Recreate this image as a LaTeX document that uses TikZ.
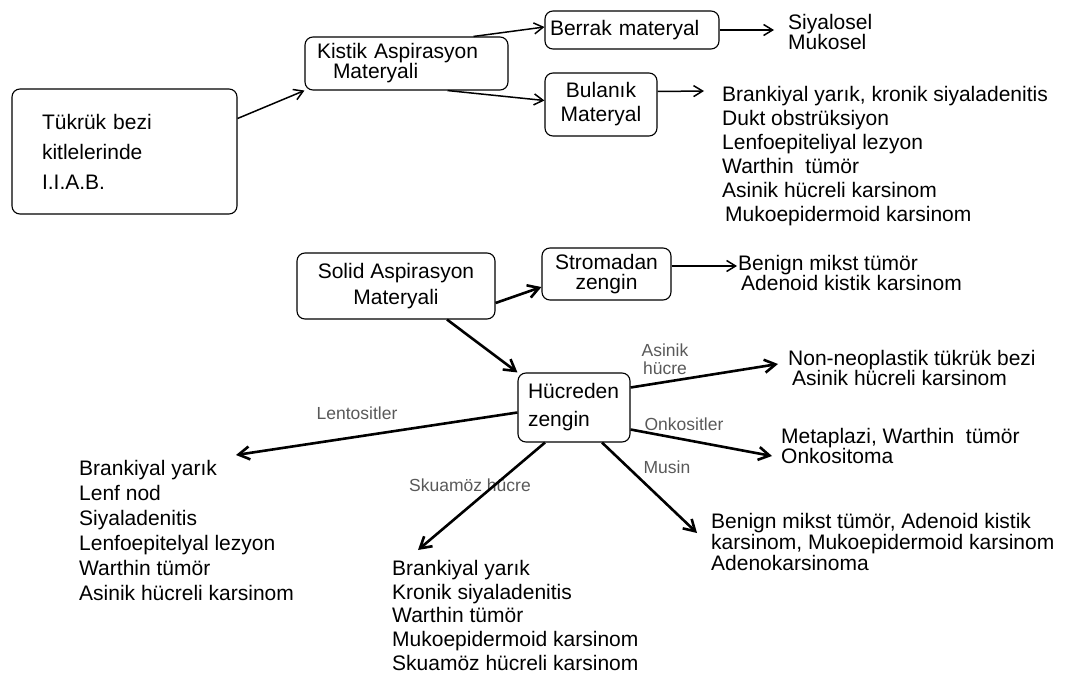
\documentclass[tikz,border=0pt]{standalone}
\usepackage{fontspec}
\setmainfont{Liberation Sans}
\usetikzlibrary{arrows.meta,positioning}

\tikzset{
  box/.style={draw, rounded corners=8pt, line width=1.1pt, inner sep=0pt},
  boxtext/.style={font=\fontsize{21}{20}\selectfont},
  list/.style={anchor=north west, align=left, inner sep=0pt},
  lbl/.style={text=black!65, inner sep=0pt, font=\fontsize{17.5}{18}\selectfont},
  flow/.style={-{Straight Barb[length=9pt,width=11pt]}, line width=1.5pt},
  heavy/.style={-{Straight Barb[length=11pt,width=13pt]}, line width=2.6pt},
}

\begin{document}
\begin{tikzpicture}[x=1pt, y=-1pt]
    \useasboundingbox (0,0) rectangle (1072,677);

    % Start
    \node[box, minimum width=225pt, minimum height=125pt, text width=165pt, align=left,
          font=\fontsize{21}{30}\selectfont] (tukruk) at (124.5,151.5)
          {Tükrük bezi\\kitlelerinde\\I.I.A.B.};

    % Cystic branch
    \node[box, boxtext, minimum width=203pt, minimum height=53pt, text width=179pt, align=left]
          (kistik) at (406.5,63.5) {Kistik Aspirasyon\\\hspace*{16pt}Materyali};
    \node[box, boxtext, minimum width=174pt, minimum height=38pt, text width=164pt, align=left]
          (berrak) at (632,30) {Berrak materyal};
    \node[box, boxtext, minimum width=112pt, minimum height=63pt, align=center,
          font=\fontsize{21}{24}\selectfont] (bulanik) at (601,104.5) {Bulanık\\Materyal};

    \node[list, font=\fontsize{21}{18}\selectfont] (siallist) at (788,14) {Siyalosel\\Mukosel};
    \node[list, font=\fontsize{21}{24}\selectfont] (bulaniklist) at (722,86)
          {Brankiyal yarık, kronik siyaladenitis\\Dukt obstrüksiyon\\Lenfoepiteliyal lezyon\\
           Warthin\ \ tümör\\Asinik hücreli karsinom\\\hspace*{3pt}Mukoepidermoid karsinom};

    % Solid branch
    \node[box, boxtext, minimum width=198pt, minimum height=66pt, align=center,
          font=\fontsize{21}{26}\selectfont] (solid) at (396,286) {Solid Aspirasyon\\Materyali};
    \node[box, boxtext, minimum width=129pt, minimum height=52pt, align=center]
          (stromadan) at (606.5,274) {Stromadan\\zengin};
    \node[box, minimum width=112pt, minimum height=69pt, text width=92pt, align=left,
          font=\fontsize{21}{28}\selectfont] (hucreden) at (574,407.5) {Hücreden\\zengin};

    \node[list, font=\fontsize{21}{20}\selectfont] (benignlist) at (738,255)
          {Benign mikst tümör\\\hspace*{3pt}Adenoid kistik karsinom};
    \node[list, font=\fontsize{21}{19}\selectfont] (nonneolist) at (788,350)
          {Non-neoplastik tükrük bezi\\\hspace*{4pt}Asinik hücreli karsinom};
    \node[list, font=\fontsize{21}{20}\selectfont] (metalist) at (781,428)
          {Metaplazi, Warthin\ \ tümör\\Onkositoma};
    \node[list, font=\fontsize{21}{21}\selectfont] (musinlist) at (711,513)
          {Benign mikst tümör, Adenoid kistik\\karsinom, Mukoepidermoid karsinom\\Adenokarsinoma};
    \node[list, font=\fontsize{21}{25}\selectfont] (lentlist) at (79,460)
          {Brankiyal yarık\\Lenf nod\\Siyaladenitis\\Lenfoepitelyal lezyon\\Warthin tümör\\Asinik hücreli karsinom};
    \node[list, font=\fontsize{21}{23.7}\selectfont] (skualist) at (392,560)
          {Brankiyal yarık\\Kronik siyaladenitis\\Warthin tümör\\Mukoepidermoid karsinom\\Skuamöz hücreli karsinom};

    % Cell labels
    \node[lbl, align=center] (asiniklbl) at (665,359) {Asinik\\hücre};
    \node[lbl] (lentlbl) at (357,413) {Lentositler};
    \node[lbl] (onklbl) at (684,424) {Onkositler};
    \node[lbl] (musinlbl) at (667,467) {Musin};
    \node[lbl] (skualbl) at (470,485) {Skuamöz hücre};

    % Arrow ends
    \coordinate (sialend) at (774,30);
    \coordinate (bulend) at (704,91);
    \coordinate (stroend) at (737,266);
    \coordinate (asinend) at (778,364);
    \coordinate (onkend) at (772,456);
    \coordinate (musinend) at (697,533);
    \coordinate (skuaend) at (418,550);
    \coordinate (lentend) at (236,455);

    % Arrows
    \draw[flow] ([yshift=33pt]tukruk.east) -- (kistik.south west);
    \draw[flow] ([xshift=-35pt]kistik.north east) -- ([yshift=3pt]berrak.west);
    \draw[flow] ([xshift=-61pt]kistik.south east) -- ([yshift=4pt]bulanik.west);
    \draw[flow] (berrak.east) -- (sialend);
    \draw[flow] ([yshift=13pt]bulanik.east) -- (bulend);

    \draw[heavy] ([yshift=-17pt]solid.east) -- ([yshift=-13pt]stromadan.west);
    \draw[heavy] ([xshift=51pt]solid.south) -- (hucreden.north west);
    \draw[flow] ([yshift=8pt]stromadan.east) -- (stroend);
    \draw[heavy] ([yshift=20pt]hucreden.east) -- (asinend);
    \draw[heavy] ([yshift=-22pt]hucreden.east) -- (onkend);
    \draw[heavy] ([xshift=28pt]hucreden.south) -- (musinend);
    \draw[heavy] ([xshift=-29pt]hucreden.south) -- (skuaend);
    \draw[heavy] ([yshift=-5pt]hucreden.west) -- (lentend);
\end{tikzpicture}
\end{document}
